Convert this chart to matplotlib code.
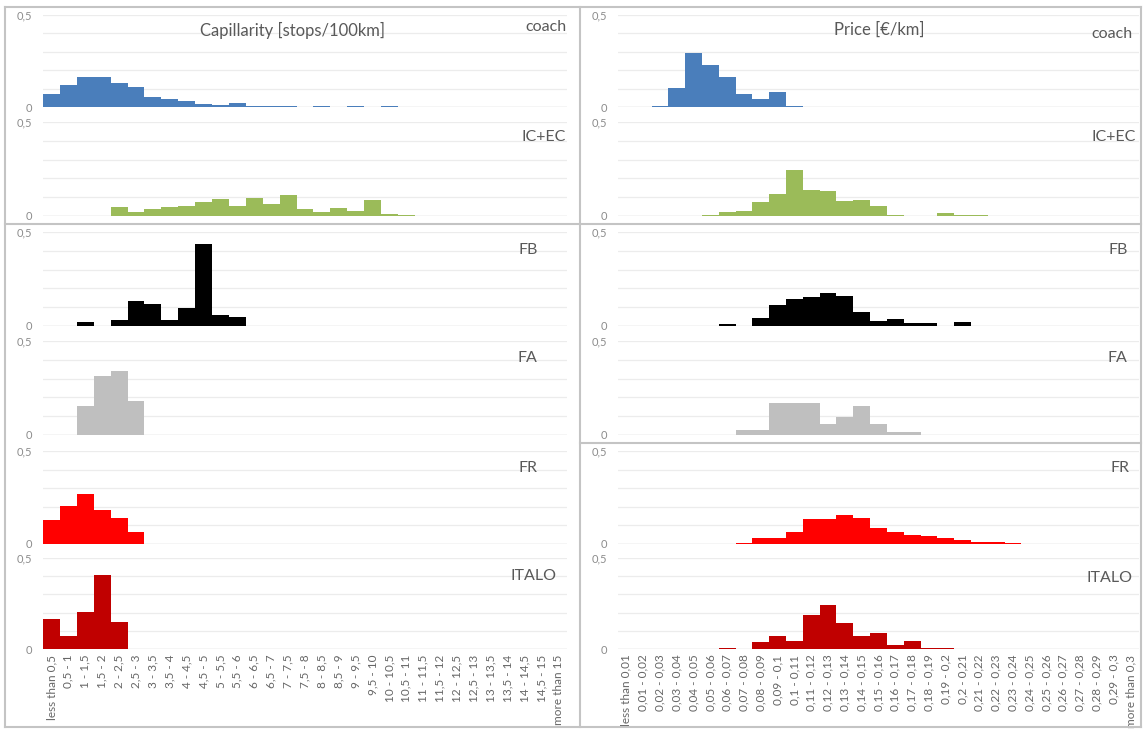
import numpy as np
import matplotlib
matplotlib.use("Agg")
import matplotlib.pyplot as plt
from matplotlib.lines import Line2D

plt.rcParams["font.family"] = ["Lato", "DejaVu Sans"]

# bin labels
cap_labels = ["less than 0,5", "0,5 - 1", "1 - 1,5", "1,5 - 2", "2 - 2,5", "2,5 - 3",
              "3 - 3,5", "3,5 - 4", "4 - 4,5", "4,5 - 5", "5 - 5,5", "5,5 - 6",
              "6 - 6,5", "6,5 - 7", "7 - 7,5", "7,5 - 8", "8 - 8,5", "8,5 - 9",
              "9 - 9,5", "9,5 - 10", "10 - 10,5", "10,5 - 11", "11 - 11,5", "11,5 - 12",
              "12 - 12,5", "12,5 - 13", "13 - 13,5", "13,5 - 14", "14 - 14,5", "14,5 - 15",
              "more than 15"]
price_labels = ["less than 0,01", "0,01 - 0,02", "0,02 - 0,03", "0,03 - 0,04", "0,04 - 0,05",
                "0,05 - 0,06", "0,06 - 0,07", "0,07 - 0,08", "0,08 - 0,09", "0,09 - 0,1",
                "0,1 - 0,11", "0,11 - 0,12", "0,12 - 0,13", "0,13 - 0,14", "0,14 - 0,15",
                "0,15 - 0,16", "0,16 - 0,17", "0,17 - 0,18", "0,18 - 0,19", "0,19 - 0,2",
                "0,2 - 0,21", "0,21 - 0,22", "0,22 - 0,23", "0,23 - 0,24", "0,24 - 0,25",
                "0,25 - 0,26", "0,26 - 0,27", "0,27 - 0,28", "0,28 - 0,29", "0,29 - 0,3",
                "more than 0,3"]

services = ["coach", "IC+EC", "FB", "FA", "FR", "ITALO"]
colors = ["#4a7ebb", "#9bbb59", "#000000", "#bfbfbf", "#ff0000", "#c00000"]

# capillarity shares [stops/100km]
cap_coach = [0.073, 0.12, 0.165, 0.165, 0.13, 0.106, 0.054, 0.041, 0.032, 0.018, 0.013,
             0.023, 0.005, 0.005, 0.005, 0, 0.004, 0, 0.008, 0, 0.005, 0, 0, 0, 0.002,
             0, 0, 0, 0, 0, 0]
cap_icec = [0, 0, 0, 0, 0.05, 0.023, 0.036, 0.048, 0.055, 0.076, 0.091, 0.055, 0.096,
            0.062, 0.112, 0.037, 0.02, 0.043, 0.028, 0.084, 0.012, 0.005,
            0, 0, 0, 0, 0, 0, 0, 0, 0]
cap_fb = [0, 0, 0.023, 0, 0.034, 0.132, 0.117, 0.032, 0.094, 0.436, 0.057, 0.046,
          0, 0, 0, 0, 0, 0, 0, 0, 0, 0, 0, 0, 0, 0, 0, 0, 0, 0, 0]
cap_fa = [0, 0, 0.155, 0.314, 0.341, 0.182, 0, 0, 0, 0, 0, 0, 0, 0, 0, 0,
          0, 0, 0, 0, 0, 0, 0, 0, 0, 0, 0, 0, 0, 0, 0]
cap_fr = [0.129, 0.205, 0.27, 0.182, 0.14, 0.064, 0, 0, 0, 0, 0, 0, 0, 0, 0, 0,
          0, 0, 0, 0, 0, 0, 0, 0, 0, 0, 0, 0, 0, 0, 0]
cap_italo = [0.165, 0.071, 0.203, 0.407, 0.147, 0, 0, 0, 0, 0, 0, 0, 0, 0, 0, 0,
             0, 0, 0, 0, 0, 0, 0, 0, 0, 0, 0, 0, 0, 0, 0]

# price shares [EUR/km]
pr_coach = [0, 0, 0.007, 0.105, 0.296, 0.229, 0.161, 0.071, 0.045, 0.079, 0.007,
            0, 0, 0, 0, 0, 0, 0, 0, 0, 0, 0, 0, 0, 0, 0, 0, 0, 0, 0, 0]
pr_icec = [0, 0, 0, 0, 0, 0.004, 0.023, 0.027, 0.077, 0.117, 0.247, 0.139, 0.132, 0.078,
           0.087, 0.055, 0.004, 0, 0, 0.016, 0.004, 0.004, 0, 0, 0, 0, 0, 0, 0, 0, 0]
pr_fb = [0, 0, 0, 0, 0, 0, 0.009, 0, 0.044, 0.113, 0.144, 0.152, 0.176, 0.16, 0.074,
         0.028, 0.037, 0.016, 0.016, 0, 0.021, 0, 0, 0, 0, 0, 0, 0, 0, 0, 0]
pr_fa = [0, 0, 0, 0, 0, 0, 0, 0.028, 0.028, 0.171, 0.171, 0.171, 0.06, 0.094, 0.155,
         0.06, 0.014, 0.014, 0, 0, 0, 0, 0, 0, 0, 0, 0, 0, 0, 0, 0]
pr_fr = [0, 0, 0, 0, 0, 0, 0, 0.004, 0.032, 0.032, 0.064, 0.133, 0.133, 0.154, 0.141,
         0.085, 0.064, 0.048, 0.041, 0.03, 0.023, 0.011, 0.011, 0.007, 0, 0, 0, 0, 0, 0, 0]
pr_italo = [0, 0, 0, 0, 0, 0, 0.007, 0, 0.04, 0.07, 0.046, 0.185, 0.242, 0.145, 0.07,
            0.088, 0.02, 0.044, 0.007, 0.007, 0, 0, 0, 0, 0, 0, 0, 0, 0, 0, 0]

cap_data = [cap_coach, cap_icec, cap_fb, cap_fa, cap_fr, cap_italo]
price_data = [pr_coach, pr_icec, pr_fb, pr_fa, pr_fr, pr_italo]

W, H = 1143, 729
fig = plt.figure(figsize=(W / 100, H / 100), dpi=100)
fig.patch.set_facecolor("white")

# pixel layout (top = 0,5 line, bottom = 0 line)
rows = [(15, 107), (122, 216), (232, 326), (341, 435), (451, 544), (558, 649)]
cols = [(43, 567), (618, 1139)]
lab_y = [[27, 137, 250, 358, 468, 576], [34, 137, 250, 358, 468, 578]]
lab_x = [[566, 566, 538, 537, 538, 557], [1133, 1136, 1128, 1127, 1130, 1132]]
grey_txt = "#595959"


def fx(px):
    return px / W


def fy(py):
    return 1 - py / H


for c, (data, labels) in enumerate([(cap_data, cap_labels), (price_data, price_labels)]):
    x0, x1 = cols[c]
    for r, (top, bot) in enumerate(rows):
        ax = fig.add_axes([fx(x0), fy(bot), (x1 - x0) / W, (bot - top) / H])
        n = len(labels)
        x = np.arange(n)
        ax.bar(x, data[r], width=1.0, color=colors[r], linewidth=0)
        ax.set_xlim(-0.5, n - 0.5)
        ax.set_ylim(0, 0.5)
        ax.set_yticks([0, 0.1, 0.2, 0.3, 0.4, 0.5])
        ax.set_yticklabels(["0", "", "", "", "", "0,5"])
        ax.grid(axis="y", color="#ececec", linewidth=0.9)
        ax.set_axisbelow(True)
        ax.axhline(0, color="#d9d9d9", linewidth=1.0, zorder=0.5)
        for s in ax.spines.values():
            s.set_visible(False)
        ax.tick_params(axis="y", length=0, labelsize=8, labelcolor="#8c8c8c", pad=8)
        ax.tick_params(axis="x", length=0)
        if r == len(rows) - 1:
            ax.set_xticks(x)
            ax.set_xticklabels(labels, rotation=90, fontsize=8.5, color="#666666")
            ax.tick_params(axis="x", pad=4)
        else:
            ax.set_xticks([])
        ax.patch.set_alpha(0)
        fig.text(fx(lab_x[c][r]), fy(lab_y[c][r]), services[r], ha="right",
                 va="center", fontsize=11.5, color=grey_txt)

fig.text(fx(292), fy(30), "Capillarity [stops/100km]", ha="center", va="center",
         fontsize=12, color=grey_txt)
fig.text(fx(879), fy(30), "Price [€/km]", ha="center", va="center",
         fontsize=12, color=grey_txt)

# chart frames
frame = "#c4c4c4"
segs = [((5, 1141), (7, 7)), ((5, 1141), (727, 727)), ((5, 5), (7, 727)),
        ((1141, 1141), (7, 727)), ((580, 580), (7, 727)), ((5, 1141), (224, 224)),
        ((580, 1141), (443, 443))]
for xs, ys in segs:
    fig.add_artist(Line2D([fx(xs[0]), fx(xs[1])], [fy(ys[0]), fy(ys[1])],
                          color=frame, linewidth=1.5))

fig.savefig("out.png", dpi=100)
